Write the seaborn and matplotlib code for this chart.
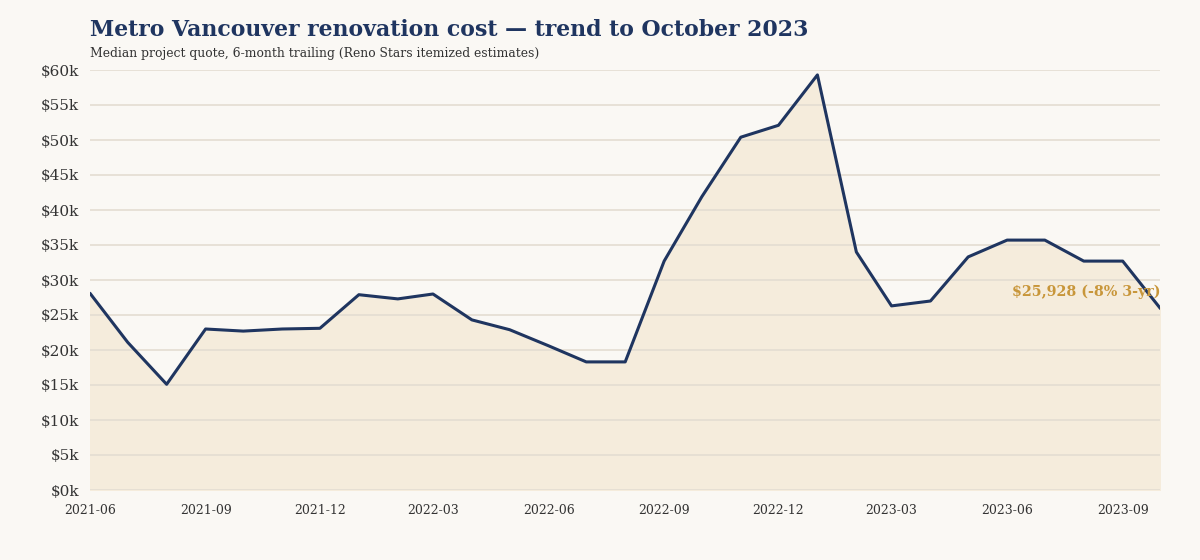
import pandas as pd
import seaborn as sns
import matplotlib.pyplot as plt
import matplotlib.dates as mdates
from matplotlib.ticker import FuncFormatter

months = pd.date_range('2021-06-01', '2023-10-01', freq='MS')
median_quote = [28100, 21100, 15100, 23000, 22700, 23000, 23100, 27900, 27300, 28000,
                24300, 22900, 20600, 18300, 18300, 32700, 41900, 50400, 52100, 59300,
                34000, 26300, 27000, 33300, 35700, 35700, 32700, 32700, 25928]
tick_months = ['2021-06', '2021-09', '2021-12', '2022-03', '2022-06', '2022-09',
               '2022-12', '2023-03', '2023-06', '2023-09']
last_label = '$25,928 (-8% 3-yr)'

df = pd.DataFrame({'month': months, 'quote': median_quote})

bg = '#faf8f4'
navy = '#1f3560'
gold = '#c8963a'

sns.set_style('white')
plt.rcParams['font.family'] = ['DejaVu Serif']

fig, ax = plt.subplots(figsize=(12, 5.6), dpi=100)
fig.patch.set_facecolor(bg)
ax.set_facecolor(bg)
fig.subplots_adjust(left=0.075, right=0.967, top=0.875, bottom=0.125)

ax.fill_between(df['month'], df['quote'], 0, color='#f5ecdc', zorder=1)
sns.lineplot(data=df, x='month', y='quote', color=navy, linewidth=2.2, ax=ax, zorder=3)

ax.set_xlim(months[0], months[-1])
ax.set_ylim(0, 60000)
ax.set_yticks(range(0, 60001, 5000))
ax.yaxis.set_major_formatter(FuncFormatter(lambda v, p: f'${int(v/1000)}k'))
ax.set_xticks(pd.to_datetime(tick_months))
ax.xaxis.set_major_formatter(mdates.DateFormatter('%Y-%m'))
ax.tick_params(axis='y', labelsize=11, colors='#333333', length=0, pad=8)
ax.tick_params(axis='x', labelsize=9, colors='#333333', length=0, pad=10)
ax.set_axisbelow(False)
ax.grid(axis='y', color='#e4ddd2', linewidth=1.2, zorder=2)
for s in ax.spines.values():
    s.set_visible(False)
ax.set_xlabel('')
ax.set_ylabel('')

ax.annotate(last_label, xy=(months[-1], median_quote[-1]), xytext=(0, 12),
            textcoords='offset points', ha='right', va='center',
            color=gold, fontsize=10.3, fontweight='bold', zorder=4)

fig.text(0.075, 0.947, 'Metro Vancouver renovation cost \u2014 trend to October 2023',
         fontsize=15.8, fontweight='bold', color=navy, ha='left', va='center')
fig.text(0.075, 0.905, 'Median project quote, 6-month trailing (Reno Stars itemized estimates)',
         fontsize=8.9, color='#333333', ha='left', va='center')

fig.savefig('out.png', dpi=100, facecolor=bg)
